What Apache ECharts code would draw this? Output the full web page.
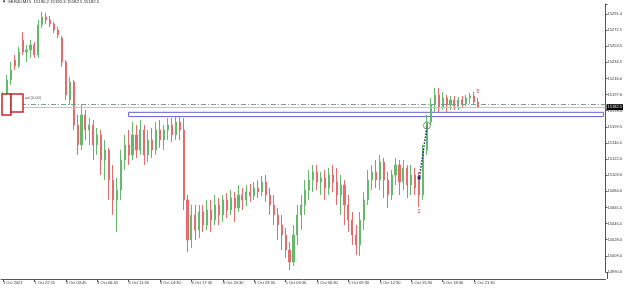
<!DOCTYPE html>
<html><head><meta charset="utf-8">
<script src="https://cdn.jsdelivr.net/npm/echarts@6/dist/echarts.min.js"></script>
<style>html,body{margin:0;padding:0;background:#fff}#c{width:625px;height:288px}</style>
</head><body><div id="c"></div>
<script>
const xTickLabels = ['1 Oct 2021','1 Oct 22:15','4 Oct 03:45','4 Oct 06:45','4 Oct 11:30','4 Oct 14:30','4 Oct 17:30','4 Oct 20:30','4 Oct 23:30','5 Oct 03:30','5 Oct 06:30','5 Oct 09:30','5 Oct 12:30','5 Oct 15:30','5 Oct 18:30','5 Oct 21:30'];
const yTickLabels = ['14990.0','15009.0','15028.0','15046.5','15065.5','15084.0','15103.0','15122.0','15140.5','15159.5','15178.5','15197.6','15216.0','15234.5','15253.5','15272.5','15291.4'];

const opens = [15190.9,15196.8,15214.3,15237.7,15230.7,15261.0,15247.0,15249.4,15255.2,15243.5,
15278.6,15287.9,15284.4,15279.7,15272.7,15263.4,15235.3,15190.9,15212.0,15161.7,
15138.4,15173.4,15155.9,15161.7,15138.4,15150.1,15120.8,15132.5,15097.5,15074.1,
15085.8,15120.8,15138.4,15126.7,15150.1,15132.5,15155.9,15126.7,15144.2,15132.5,
15155.9,15144.2,15155.9,15161.7,15150.1,15165.2,15155.9,15074.1,15027.4,15056.6,
15039.1,15060.1,15044.9,15062.4,15050.8,15068.3,15056.6,15074.1,15062.4,15076.5,
15064.8,15080.0,15074.1,15083.5,15078.8,15088.1,15083.5,15095.1,15080.0,15068.3,
15056.6,15044.9,15033.2,15015.7,15001.7,15033.2,15056.6,15068.3,15085.8,15097.5,
15106.8,15095.1,15099.8,15088.1,15103.3,15095.1,15080.0,15091.6,15068.3,15050.8,
15033.2,15021.5,15050.8,15074.1,15097.5,15106.8,15097.5,15118.5,15097.5,15080.0,
15103.3,15115.0,15095.1,15111.5,15091.6,15103.3,15097.5,15080.0,15132.5,15165.2,
15185.1,15196.8,15181.6,15193.3,15185.1,15190.9,15183.9,15190.9,15186.3,15193.3,
15195.6,15188.6];
const closes = [15196.8,15214.3,15226.0,15230.7,15247.0,15247.0,15249.4,15255.2,15243.5,15278.6,
15287.9,15284.4,15279.7,15272.7,15266.9,15235.3,15196.8,15212.0,15161.7,15138.4,
15173.4,15155.9,15161.7,15138.4,15150.1,15120.8,15132.5,15097.5,15074.1,15085.8,
15120.8,15138.4,15126.7,15150.1,15132.5,15155.9,15126.7,15144.2,15132.5,15155.9,
15144.2,15155.9,15161.7,15150.1,15165.2,15155.9,15074.1,15027.4,15056.6,15039.1,
15060.1,15044.9,15062.4,15050.8,15068.3,15056.6,15074.1,15062.4,15076.5,15064.8,
15080.0,15074.1,15083.5,15078.8,15088.1,15083.5,15095.1,15080.0,15068.3,15056.6,
15044.9,15033.2,15015.7,15001.7,15033.2,15056.6,15068.3,15085.8,15097.5,15106.8,
15095.1,15099.8,15088.1,15103.3,15095.1,15080.0,15091.6,15068.3,15050.8,15033.2,
15021.5,15050.8,15074.1,15097.5,15106.8,15097.5,15118.5,15097.5,15080.0,15103.3,
15115.0,15095.1,15111.5,15091.6,15103.3,15088.1,15080.0,15132.5,15165.2,15185.1,
15196.8,15181.6,15193.3,15185.1,15190.9,15183.9,15190.9,15186.3,15193.3,15195.6,
15188.6,15182.5];
const lows = [15179.3,15193.3,15208.5,15226.0,15228.3,15243.5,15235.3,15240.0,15240.0,15240.0,
15275.1,15279.7,15276.2,15269.2,15263.4,15229.5,15190.9,15185.1,15155.9,15126.7,
15132.5,15144.2,15138.4,15120.8,15126.7,15103.3,15097.5,15074.1,15056.6,15036.7,
15074.1,15109.2,15115.0,15120.8,15123.2,15126.7,15115.0,15118.5,15123.2,15126.7,
15134.9,15132.5,15144.2,15141.9,15144.2,15144.2,15062.4,15013.4,15018.0,15027.4,
15029.7,15036.7,15039.1,15036.7,15044.9,15044.9,15048.4,15053.1,15056.6,15048.4,
15060.1,15062.4,15067.1,15071.8,15074.1,15076.5,15078.8,15071.8,15056.6,15044.9,
15027.4,15015.7,15006.4,14992.3,14997.0,15021.5,15039.1,15056.6,15074.1,15083.5,
15085.8,15080.0,15074.1,15080.0,15083.5,15068.3,15056.6,15044.9,15036.7,15021.5,
15009.9,15008.7,15039.1,15068.3,15085.8,15088.1,15085.8,15076.5,15064.8,15074.1,
15091.6,15080.0,15085.8,15076.5,15080.0,15080.0,15065.9,15074.1,15126.7,15161.7,
15176.9,15176.9,15179.3,15176.9,15179.3,15179.3,15179.3,15181.6,15183.9,15186.3,
15185.1,15181.6];
const highs = [15200.3,15220.1,15235.3,15243.5,15252.9,15270.4,15255.2,15261.0,15258.7,15284.4,
15293.7,15292.6,15289.1,15282.1,15276.2,15265.7,15237.7,15217.8,15214.3,15173.4,
15185.1,15179.3,15169.9,15167.6,15158.2,15155.9,15144.2,15134.9,15115.0,15099.8,
15132.5,15150.1,15155.9,15165.2,15161.7,15167.6,15161.7,15155.9,15158.2,15165.2,
15167.6,15161.7,15169.9,15169.9,15171.1,15171.1,15169.9,15080.0,15068.3,15068.3,
15068.3,15068.3,15074.1,15074.1,15080.0,15076.5,15080.0,15082.3,15085.8,15083.5,
15091.6,15088.1,15091.6,15092.8,15095.1,15097.5,15102.2,15103.3,15088.1,15080.0,
15064.8,15056.6,15041.4,15025.1,15044.9,15068.3,15080.0,15097.5,15109.2,15115.0,
15115.0,15106.8,15109.2,15111.5,15115.0,15111.5,15103.3,15097.5,15080.0,15060.1,
15044.9,15060.1,15083.5,15109.2,15115.0,15120.8,15126.7,15123.2,15106.8,15109.2,
15123.2,15120.8,15120.8,15115.0,15115.0,15111.5,15106.8,15138.4,15173.4,15193.3,
15205.0,15205.0,15200.3,15196.8,15195.6,15195.6,15194.4,15195.6,15196.8,15199.1,
15200.3,15193.3];

const slotCount = 154;
const labelStep = 8;
const categories = Array.from({length: slotCount}, (_, i) => String(i));
const ohlc = opens.map((o, i) => [o, closes[i], lows[i], highs[i]]);
const lastClose = closes[closes.length - 1];
const orderLevel = 15186.3;
const zoneTop = 15176.5, zoneBottom = 15171.5;

const tickShown = i => i % labelStep === 0 && i / labelStep < xTickLabels.length;
const font = 'Liberation Sans';

const chart = echarts.init(document.getElementById('c'), null, {renderer: 'canvas'});
chart.setOption({
  animation: false,
  backgroundColor: '#fff',
  grid: {left: 0, right: 18, top: 4, bottom: 16},
  xAxis: {
    type: 'category', data: categories, boundaryGap: true, offset: 7,
    axisLine: {lineStyle: {color: '#555', width: 1}},
    axisTick: {show: true, alignWithLabel: true, length: 3, interval: (i) => tickShown(i), lineStyle: {color: '#555'}},
    axisLabel: {interval: (i) => tickShown(i), formatter: (v, i) => xTickLabels[i / labelStep] || '',
      align: 'left', fontSize: 4, fontFamily: font, color: '#333', margin: 2},
    splitLine: {show: false}
  },
  yAxis: {
    type: 'value', position: 'right', min: 14990, max: 15303, interval: 18.8375, scale: true,
    axisLine: {show: true, lineStyle: {color: '#555', width: 1}},
    axisTick: {show: true, length: 2, lineStyle: {color: '#555'}},
    axisLabel: {formatter: (v, i) => yTickLabels[i] || '', fontSize: 4, fontFamily: font, color: '#333', margin: 2},
    splitLine: {show: false}
  },
  graphic: [
    {type: 'text', left: 2, top: 0, z: 100, style: {text: '▼ GER40,M15  15190.2 15192.3 15182.5 15182.5', fontSize: 4.3, fontFamily: font, fill: '#222'}},
    {type: 'rect', z: 100, shape: {x: 2, y: 94, width: 9, height: 21}, style: {fill: '#fff', stroke: '#c62828', lineWidth: 1.5}},
    {type: 'rect', z: 100, shape: {x: 11, y: 94, width: 12, height: 18}, style: {fill: '#fff', stroke: '#c62828', lineWidth: 1.5}},
    {type: 'text', z: 100, left: 25, top: 96, style: {text: 'ad (0.00)', fontSize: 4, fontFamily: font, fill: '#555'}},
    {type: 'line', z: 100, shape: {x1: 607.5, y1: 272, x2: 607.5, y2: 279}, style: {stroke: '#555', lineWidth: 1}}
  ],
  series: [{
    type: 'candlestick', data: ohlc, barWidth: 1.6, clip: false,
    itemStyle: {color: '#66b96a', color0: '#e46c6c', borderColor: '#66b96a', borderColor0: '#e46c6c', borderWidth: 1},
    markLine: {
      symbol: ['none', 'none'], silent: true, animation: false,
      data: [
        {yAxis: orderLevel, lineStyle: {type: [5, 2, 1, 2], color: '#7f9d8c', width: 1}, label: {show: false}},
        {yAxis: lastClose, lineStyle: {type: 'solid', color: '#c4c4c4', width: 1},
          label: {show: true, position: 'end', formatter: lastClose.toFixed(1), backgroundColor: '#000', color: '#fff', fontSize: 4, fontFamily: font, padding: [1, 1, 1, 1], distance: 1}},
        [{coord: [106, 15098], lineStyle: {type: 'dotted', color: '#1c2a6b', width: 1.5}, label: {show: false}}, {coord: [108, 15160]}]
      ]
    },
    markArea: {
      silent: true,
      itemStyle: {color: 'rgba(0,0,0,0)', borderColor: '#6363d0', borderWidth: 1},
      data: [[{xAxis: 32, yAxis: zoneTop}, {xAxis: slotCount - 1, yAxis: zoneBottom}]]
    },
    markPoint: {
      silent: true, animation: false,
      data: [
        {name: '2', coord: [106, 15060], symbol: 'circle', symbolSize: 1, itemStyle: {color: 'rgba(0,0,0,0)'},
          label: {show: true, formatter: '{b}', color: '#d33', fontSize: 5, fontFamily: font}},
        {name: '3', coord: [108, 15161], symbol: 'circle', symbolSize: 7, itemStyle: {color: 'rgba(0,0,0,0)', borderColor: '#7a9a7a', borderWidth: 1},
          label: {show: true, formatter: '{b}', color: '#557755', fontSize: 4, fontFamily: font}},
        {name: '5', coord: [121, 15201], symbol: 'circle', symbolSize: 1, itemStyle: {color: 'rgba(0,0,0,0)'},
          label: {show: true, formatter: '{b}', color: '#d33', fontSize: 5, fontFamily: font}},
        {name: '', coord: [106, 15100], symbol: 'rect', symbolSize: 3, itemStyle: {color: '#1c2a6b'}, label: {show: false}}
      ]
    }
  }]
});
</script>
</body></html>
